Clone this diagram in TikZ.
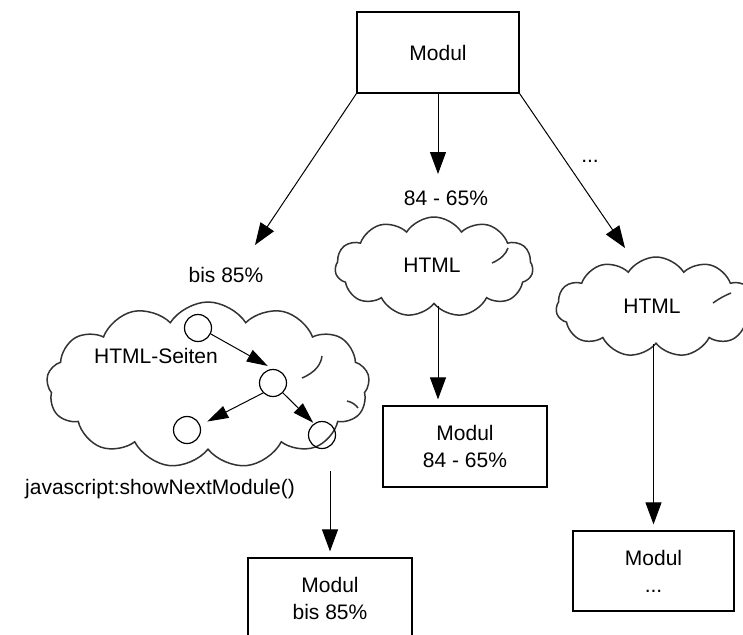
\documentclass[tikz,border=0pt]{standalone}
\usepackage{fontspec}
\setmainfont{Liberation Sans}
\usetikzlibrary{arrows.meta,shapes.symbols,calc}
\begin{document}
\begin{tikzpicture}[x=1pt,y=-1pt,
  box/.style={draw, line width=1.2pt, align=center, font=\fontsize{21}{27}\selectfont, inner sep=0pt},
  lbl/.style={font=\fontsize{21}{25}\selectfont, inner sep=0pt, anchor=base},
  cloudnode/.style={cloud, draw=black!80, line width=1.5pt, cloud puffs=13, cloud puff arc=115, inner sep=0pt},
  curl/.style={draw=black!80, line width=1.5pt},
  arr/.style={-{Triangle[length=22pt,width=16pt]}, line width=1pt},
  iarr/.style={-{Triangle[length=21pt,width=13pt]}, line width=1pt},
  pg/.style={draw, circle, minimum size=27pt, inner sep=0pt, line width=1.2pt}]
\useasboundingbox (0,0) rectangle (743,634);
\clip (0,0) rectangle (743,634);

% boxes
\node[box, minimum width=162pt, minimum height=81pt] (top) at (438,52.5) {Modul};
\node[box, minimum width=164pt, minimum height=81pt] (mbox) at (465,446.5) {Modul\\84 - 65\%};
\node[box, minimum width=161pt, minimum height=80pt] (rbox) at (653.5,571) {Modul\\...};
\node[box, minimum width=164pt, minimum height=81pt] (lbox) at (330,598.5) {Modul\\bis 85\%};

% clouds
\node[cloudnode, minimum width=323pt, minimum height=166pt] (lcloud) at (208,385) {};
\node[cloudnode, cloud puffs=11, minimum width=198pt, minimum height=100pt] (mcloud) at (434,267) {};
\node[cloudnode, cloud puffs=11, minimum width=200pt, minimum height=100pt] (rcloud) at (656,307) {};

% inner curls of the clouds
\draw[curl] (302,378) .. controls (316,372) and (321,364) .. (322,356);
\draw[curl] (347,401) .. controls (352,402) and (356,405) .. (358,408);
\draw[curl] (492,263) .. controls (501,259) and (506,254) .. (508,248);
\draw[curl] (713,303) .. controls (720,298) and (726,295) .. (731,293);

% labels
\node[lbl] (lbis) at (226,282) {bis 85\%};
\node[lbl] (lmid) at (446,205) {84 - 65\%};
\node[lbl] (ldots) at (590,162) {...};
\node[lbl] (lhtmlm) at (432,272) {HTML};
\node[lbl] (lhtmlr) at (652,313) {HTML};
\node[lbl] (lseiten) at (156,363) {HTML-Seiten};
\node[lbl] (ljs) at (160,494) {javascript:showNextModule()};

% pages
\node[pg] (c1) at (198,328) {};
\node[pg] (c2) at (273,383) {};
\node[pg] (c3) at (187,430) {};
\node[pg] (c4) at (322,435) {};

% arrow ends
\coordinate (lt) at (255,245);
\coordinate (mt) at (438,174);
\coordinate (rt) at (625,248);
\coordinate (ls) at (330,471);

% connectors
\draw[arr] (top.south west) -- (lt);
\draw[arr] (top.south) -- (mt);
\draw[arr] (top.south east) -- (rt);
\draw[arr, shorten <=1pt, shorten >=6pt] (top.south |- mcloud.south) -- (top.south |- mbox.north);
\draw[arr, shorten >=6pt] (rbox.north |- rcloud.south) -- (rbox.north);
\draw[arr, shorten >=6pt] (ls) -- (lbox.north);
\draw[iarr, shorten >=6pt] (c1.-25) -- (c2.north);
\draw[iarr, shorten >=8pt] (c2.225) -- (c3.20);
\draw[iarr, shorten >=1pt] (c2.-45) -- (c4.125);
\end{tikzpicture}
\end{document}
